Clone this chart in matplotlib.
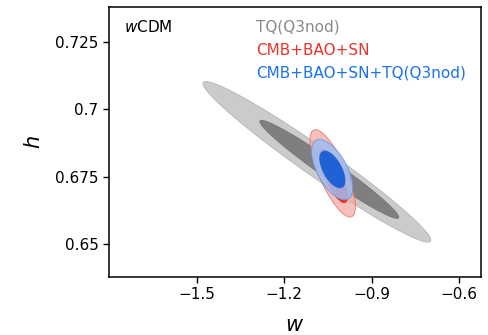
import numpy as np
import matplotlib
matplotlib.use("Agg")
import matplotlib.pyplot as plt

# Gaussian approximations of the (w, h) posteriors.
# per level: centre of the contour; per dataset: sigma_w, sigma_h, rho
levels = [6.18, 2.30]          # delta chi^2 for 2 sigma, 1 sigma

tq_centres = [(-1.0875, 0.6805), (-1.045, 0.6777)]
tq_sig = (0.157, 0.0120, -0.975)

cbs_centres = [(-1.0332, 0.6762), (-1.0300, 0.6752)]
cbs_sig = (0.0313, 0.00653, -0.76)

all_centres = [(-1.0353, 0.67757), (-1.0345, 0.67765)]
all_sig = (0.0285, 0.00450, -0.60)

labels = ["TQ(Q3nod)", "CMB+BAO+SN", "CMB+BAO+SN+TQ(Q3nod)"]
label_colors = ["#8a8a8a", "#e8352b", "#1a73e8"]


def ellipse_xy(centre, sig, dchi2, n=300):
    sw, sh, rho = sig
    cov = np.array([[sw**2, rho*sw*sh], [rho*sw*sh, sh**2]])
    L = np.linalg.cholesky(cov)
    t = np.linspace(0, 2*np.pi, n)
    pts = L @ np.vstack([np.cos(t), np.sin(t)]) * np.sqrt(dchi2)
    return centre[0] + pts[0], centre[1] + pts[1]


fig = plt.figure(figsize=(4.88, 3.35), dpi=100)
ax = fig.add_axes([0.2234, 0.1731, 0.7623, 0.806])

styles = [
    (tq_centres, tq_sig, [("#cbcbcb", "#b4b4b4", 1.0), ("#7f7f7f", "#777777", 1.0)]),
    (cbs_centres, cbs_sig, [("#f2aaa4", "#e8574e", 0.75), ("#e8352b", "#e8352b", 1.0)]),
    (all_centres, all_sig, [("#9fbdf1", "#5e90e6", 0.85), ("#1f62d6", "#1f62d6", 1.0)]),
]
for centres, sig, fills in styles:
    for centre, dchi2, (fc, ec, a) in zip(centres, levels, fills):
        x, y = ellipse_xy(centre, sig, dchi2)
        ax.fill(x, y, facecolor=fc, edgecolor=ec, alpha=a, lw=0.6)

ax.set_xlim(-1.8, -0.525)
ax.set_ylim(0.6377, 0.738)
ax.set_xticks([-1.5, -1.2, -0.9, -0.6])
ax.set_xticklabels(["\u22121.5", "\u22121.2", "\u22120.9", "\u22120.6"])
ax.set_yticks([0.65, 0.675, 0.7, 0.725])
ax.set_yticklabels(["0.65", "0.675", "0.7", "0.725"])
ax.tick_params(labelsize=11, length=4, width=1)
for s in ax.spines.values():
    s.set_linewidth(1.1)

ax.set_xlabel("$w$", fontsize=15, labelpad=9)
ax.set_ylabel("$h$", fontsize=15, labelpad=8)

ax.text(0.04, 0.925, "$w$CDM", transform=ax.transAxes, fontsize=11,
        va="center", ha="left")
for i, (lab, c) in enumerate(zip(labels, label_colors)):
    ax.text(0.395, 0.925 - 0.085*i, lab, color=c, transform=ax.transAxes,
            fontsize=11, va="center", ha="left")

fig.savefig("out.png", dpi=100)
